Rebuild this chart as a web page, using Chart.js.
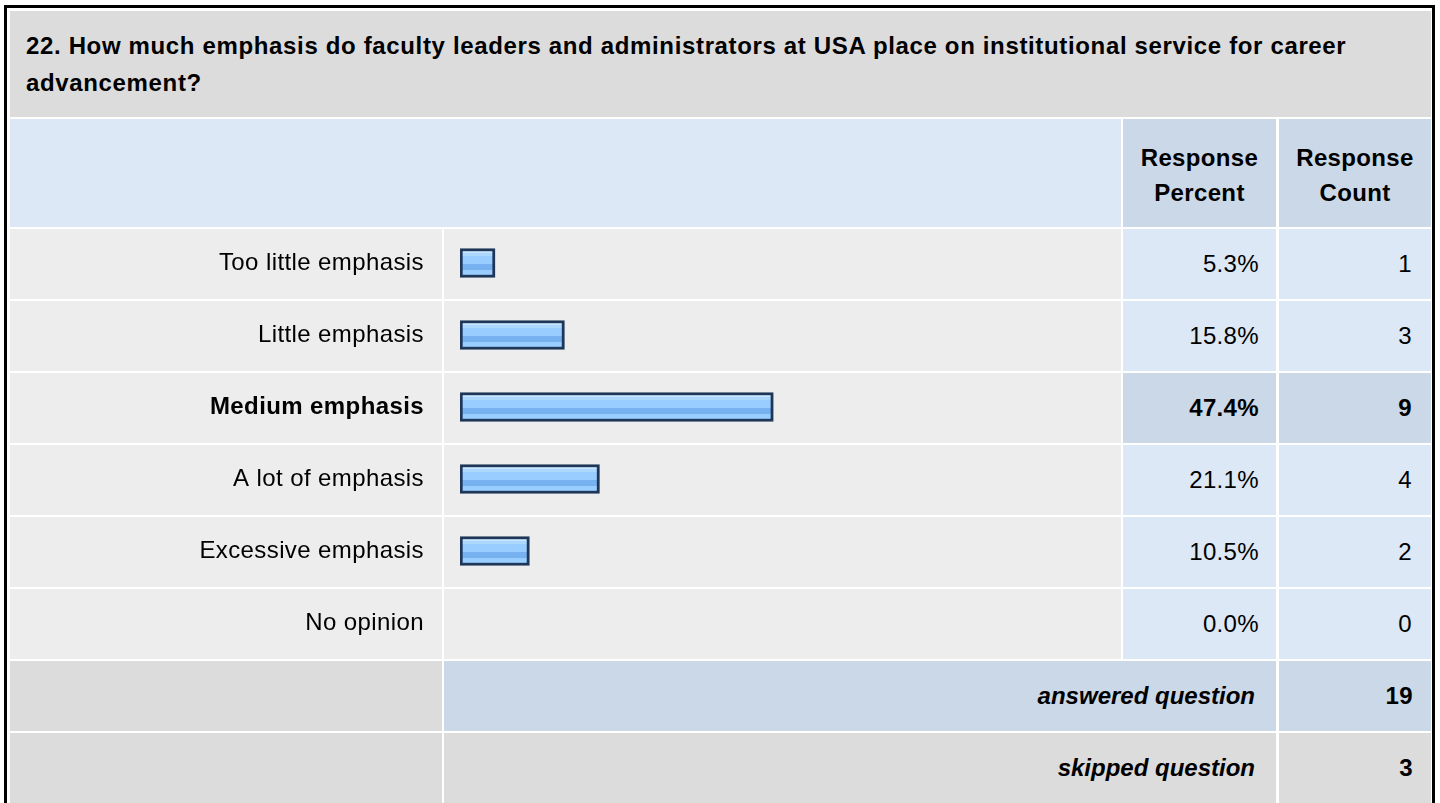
<!DOCTYPE html>
<html>
<head>
<meta charset="utf-8">
<script src="https://cdn.jsdelivr.net/npm/chart.js@4.4.1/dist/chart.umd.min.js"></script>
<style>
html,body{margin:0;padding:0;width:1440px;height:803px;overflow:hidden;background:#fff;
  font-family:"Liberation Sans",Arial,Helvetica,sans-serif;color:#000;}
.box{position:absolute;box-sizing:border-box;}
.cell{position:absolute;box-sizing:border-box;display:flex;align-items:center;font-size:24px;letter-spacing:0.35px;}
.right{justify-content:flex-end;}
.center{justify-content:center;text-align:center;}
#frame{left:4px;top:5px;width:1431px;height:840px;border:3px solid #000;}
#title{left:10px;top:11px;width:1421px;height:106px;background:#dcdcdc;font-weight:bold;font-size:24px;
  letter-spacing:0.65px;line-height:37px;padding:0 10px 0 16px;align-items:center;}
#chartWrap{position:absolute;left:10px;top:227px;width:1111px;height:432px;}
</style>
</head>
<body>
<div id="frame" class="box"></div>
<div id="title" class="cell"></div>
<div id="table"></div>
<div id="chartWrap"><canvas id="c" width="1111" height="432"></canvas></div>
<script>
// ---- data ----
const questionTitle = "22. How much emphasis do faculty leaders and administrators at USA place on institutional service for career advancement?";
const categories = ["Too little emphasis", "Little emphasis", "Medium emphasis", "A lot of emphasis", "Excessive emphasis", "No opinion"];
const responsePercent = [5.3, 15.8, 47.4, 21.1, 10.5, 0.0];
const responseCount = [1, 3, 9, 4, 2, 0];
const headerPercent = ["Response", "Percent"];
const headerCount = ["Response", "Count"];
const footerLabels = ["answered question", "skipped question"];
const footerValues = [19, 3];

// ---- layout (styling only) ----
const COL = {c1:[10,442], c2:[444,1121], c3:[1123,1276], c4:[1279,1431]};
const LIGHT_BLUE = '#dce8f5', DARK_BLUE = '#cbd8e7', ROW_GRAY = '#ededed', GRAY = '#dcdcdc';
const highlightIndex = responseCount.indexOf(Math.max(...responseCount));

document.getElementById('title').textContent = questionTitle;

const table = document.getElementById('table');
function cell(x0, x1, y, h, bg, html, cls, style) {
  const d = document.createElement('div');
  d.className = 'cell ' + (cls || '');
  d.style.left = x0 + 'px'; d.style.width = (x1 - x0) + 'px';
  d.style.top = y + 'px'; d.style.height = h + 'px';
  d.style.background = bg;
  if (style) Object.assign(d.style, style);
  d.innerHTML = html || '';
  table.appendChild(d);
  return d;
}
// header
cell(COL.c1[0], COL.c2[1], 119, 108, LIGHT_BLUE);
const hs = {fontWeight:'bold', lineHeight:'35px', paddingTop:'4px'};
cell(COL.c3[0], COL.c3[1], 119, 108, DARK_BLUE, headerPercent.join('<br>'), 'center', hs);
cell(COL.c4[0], COL.c4[1], 119, 108, DARK_BLUE, headerCount.join('<br>'), 'center', hs);
// rows
categories.forEach((cat, i) => {
  const y = 229 + 72 * i;
  const hi = i === highlightIndex;
  const bg = hi ? DARK_BLUE : LIGHT_BLUE;
  const st = {fontWeight: hi ? 'bold' : 'normal'};
  cell(COL.c1[0], COL.c1[1], y, 70, ROW_GRAY);
  cell(COL.c2[0], COL.c2[1], y, 70, ROW_GRAY);
  cell(COL.c3[0], COL.c3[1], y, 70, bg, responsePercent[i].toFixed(1) + '%', 'right', Object.assign({paddingRight:'17px'}, st));
  cell(COL.c4[0], COL.c4[1], y, 70, bg, String(responseCount[i]), 'right', Object.assign({paddingRight:'19px'}, st));
});
// footer
footerLabels.forEach((lab, k) => {
  const y = 661 + 72 * k;
  const bg = k === 0 ? DARK_BLUE : GRAY;
  cell(COL.c1[0], COL.c1[1], y, 70, GRAY);
  cell(COL.c2[0], COL.c3[1], y, 70, bg, lab, 'right', {fontWeight:'bold', fontStyle:'italic', paddingRight:'21px', letterSpacing:'0px'});
  cell(COL.c4[0], COL.c4[1], y, 70, bg, String(footerValues[k]), 'right', {fontWeight:'bold', paddingRight:'18px'});
});
// extend skipped row backgrounds past the bottom edge
(function(){
  const y = 733 + 69;
  cell(COL.c1[0], COL.c1[1], y, 40, GRAY);
  cell(COL.c2[0], COL.c3[1], y, 40, GRAY);
  cell(COL.c4[0], COL.c4[1], y, 40, GRAY);
})();

// ---- chart ----
const BAR_H = 29;
function barFill(c) {
  const chart = c.chart;
  const ys = chart.scales && chart.scales.y;
  if (!chart.chartArea || !ys) return '#99ccff';
  const cy = ys.getPixelForValue(c.dataIndex);
  const top = cy - BAR_H / 2;
  const g = chart.ctx.createLinearGradient(0, top, 0, top + BAR_H);
  const stops = [
    [0, '#c8e4ff'], [0.16, '#c8e4ff'], [0.16, '#acd7ff'], [0.26, '#acd7ff'],
    [0.26, '#99ccff'], [0.53, '#99ccff'], [0.53, '#78b1f0'], [0.74, '#78b1f0'],
    [0.74, '#99ccff'], [1, '#99ccff']
  ];
  stops.forEach(s => g.addColorStop(s[0], s[1]));
  return g;
}

const letterSpacingPlugin = {
  id: 'letterSpacing',
  beforeInit(chart) { chart.ctx.letterSpacing = '0.4px'; },
  beforeUpdate(chart) { chart.ctx.letterSpacing = '0.4px'; },
  beforeDraw(chart) { chart.ctx.letterSpacing = '0.4px'; }
};

new Chart(document.getElementById('c').getContext('2d'), {
  type: 'bar',
  data: {
    labels: categories,
    datasets: [{
      data: responsePercent,
      backgroundColor: barFill,
      borderColor: '#1e3658',
      borderWidth: 3,
      borderSkipped: false,
      barThickness: BAR_H
    }]
  },
  plugins: [letterSpacingPlugin],
  options: {
    indexAxis: 'y',
    responsive: false,
    animation: false,
    events: [],
    layout: {padding: 0},
    plugins: {legend: {display: false}, tooltip: {enabled: false}},
    scales: {
      x: {display: false, min: 0, max: 100},
      y: {
        position: 'left',
        grid: {display: false, drawTicks: false},
        border: {display: false},
        ticks: {
          padding: 36,
          color: '#000',
          autoSkip: false,
          font: (ctx) => ({family: '"Liberation Sans", Arial, sans-serif', size: 24,
            weight: ctx.index === highlightIndex ? 'bold' : 'normal'})
        },
        afterFit: (s) => { s.width = 450; s.paddingTop = 0; s.paddingBottom = 0; }
      }
    }
  }
});
</script>
</body>
</html>
